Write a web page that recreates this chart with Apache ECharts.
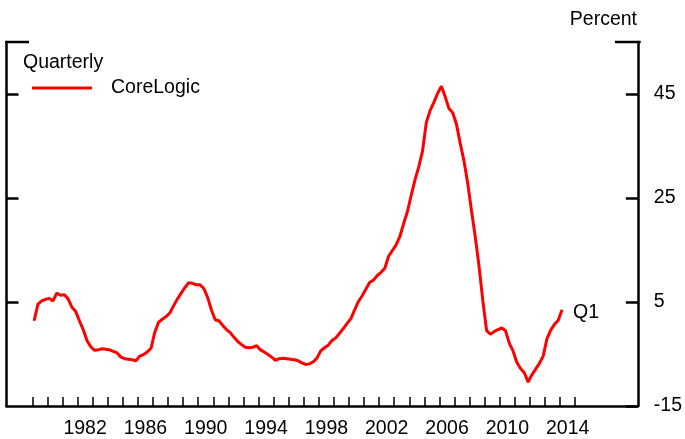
<!DOCTYPE html>
<html>
<head>
<meta charset="utf-8">
<script src="https://cdn.jsdelivr.net/npm/echarts@6/dist/echarts.min.js"></script>
<style>
  html, body { margin: 0; padding: 0; background: #fff; }
  #chart { width: 685px; height: 439px; }
</style>
</head>
<body>
<div id="chart"></div>
<script>
// quarterly series, 1979Q1 .. 2014Q1, percent
const startYear = 1979
const coreLogic = [
  1.4, 4.6, 5.2, 5.5,        // 1979
  5.7, 5.2, 6.7, 6.3,        // 1980
  6.4, 5.6, 4.0, 3.2,        // 1981
  1.4, -0.3, -2.4, -3.6,     // 1982
  -4.3, -4.2, -4.0, -4.1,    // 1983
  -4.2, -4.5, -4.8, -5.6,    // 1984
  -5.9, -6.0, -6.1, -6.3,    // 1985
  -5.4, -5.1, -4.6, -3.9,    // 1986
  -0.8, 1.1, 1.7, 2.2,       // 1987
  2.9, 4.3, 5.6, 6.7,        // 1988
  7.8, 8.7, 8.6, 8.3,        // 1989
  8.3, 7.6, 5.9, 3.5,        // 1990
  1.6, 1.4, 0.5, -0.3,       // 1991
  -0.9, -1.8, -2.6, -3.2,    // 1992
  -3.7, -3.8, -3.7, -3.4,    // 1993
  -4.2, -4.6, -5.1, -5.6,    // 1994
  -6.2, -5.9, -5.8, -5.9,    // 1995
  -6.0, -6.1, -6.3, -6.7,    // 1996
  -7.0, -6.9, -6.5, -5.8,    // 1997
  -4.4, -3.8, -3.3, -2.4,    // 1998
  -1.9, -1.0, -0.1, 0.9,     // 1999
  1.8, 3.5, 5.1, 6.2,        // 2000
  7.5, 8.8, 9.2, 10.1,       // 2001
  10.7, 11.5, 13.8, 14.9,    // 2002
  16.0, 17.6, 20.1, 22.4,    // 2003
  25.5, 28.5, 31.0, 34.0,    // 2004
  39.5, 41.8, 43.4, 45.1,    // 2005
  46.5, 44.5, 42.2, 41.4,    // 2006
  39.2, 35.5, 32.1, 27.8,    // 2007
  22.5, 17.5, 11.8, 5.2,     // 2008
  -0.5, -1.2, -0.7, -0.3,    // 2009
  0.0, -0.5, -2.9, -4.4,     // 2010
  -6.6, -7.8, -8.6, -10.4,   // 2011
  -9.0, -7.9, -6.8, -5.4,    // 2012
  -2.1, -0.4, 0.7, 1.5,      // 2013
  3.5                        // 2014
]
const yTicks = [-15, 5, 25, 45]
const xLabelYears = [1982, 1986, 1990, 1994, 1998, 2002, 2006, 2010, 2014]
const xTickYears = []
for (let y = 1979; y <= 2015; y++) xTickYears.push(y)

// each quarter sits at the middle of its quarter
const seriesData = coreLogic.map((v, i) => [startYear + (i + 0.5) / 4, v])

const font = "'Liberation Sans', Arial, Helvetica, sans-serif"
const fs = 19.5
const black = '#000'

const chart = echarts.init(document.getElementById('chart'))

const option = {
  backgroundColor: '#fff',
  animation: false,
  textStyle: { fontFamily: font },
  grid: { left: 6.5, right: 45.5, top: 42, bottom: 32.3 },
  legend: {
    left: 27,
    top: 73,
    icon: 'rect',
    itemWidth: 60,
    itemHeight: 3,
    textStyle: { fontSize: fs, color: black, fontFamily: font, padding: [0, 0, 0, 14] },
    data: ['CoreLogic']
  },
  graphic: [
    { type: 'text', left: 23, top: 53, style: { text: 'Quarterly', font: fs + 'px ' + font, fill: black } },
    { type: 'text', right: 48, top: 10, style: { text: 'Percent', font: fs + 'px ' + font, fill: black } },
    // top brackets of the frame
    { type: 'line', shape: { x1: 5.3, y1: 42, x2: 29, y2: 42 }, style: { stroke: black, lineWidth: 2.5 } },
    { type: 'line', shape: { x1: 615, y1: 42, x2: 640.7, y2: 42 }, style: { stroke: black, lineWidth: 2.5 } }
  ],
  xAxis: {
    type: 'value',
    min: 1977.29,
    max: 2019.15,
    axisLine: { show: true, onZero: false, lineStyle: { color: black, width: 2.5 } },
    axisTick: {
      show: true,
      inside: true,
      length: 9,
      customValues: xTickYears,
      lineStyle: { color: black, width: 1.5 }
    },
    axisLabel: {
      show: true,
      customValues: xLabelYears.map(y => y + 0.5),
      formatter: v => String(Math.floor(v)),
      fontSize: fs,
      color: black,
      margin: 13
    },
    splitLine: { show: false }
  },
  yAxis: [
    {
      type: 'value',
      position: 'right',
      min: -15,
      max: 55,
      axisLine: { show: true, lineStyle: { color: black, width: 2.5 } },
      axisTick: {
        show: true,
        inside: true,
        length: 12,
        customValues: yTicks,
        lineStyle: { color: black, width: 2.5 }
      },
      axisLabel: {
        show: true,
        customValues: yTicks,
        fontSize: fs,
        color: black,
        margin: 16
      },
      splitLine: { show: false }
    },
    {
      type: 'value',
      position: 'left',
      min: -15,
      max: 55,
      axisLine: { show: true, lineStyle: { color: black, width: 2.5 } },
      axisTick: {
        show: true,
        inside: true,
        length: 12,
        customValues: yTicks.slice(1),
        lineStyle: { color: black, width: 2.5 }
      },
      axisLabel: { show: false },
      splitLine: { show: false }
    }
  ],
  series: [
    {
      name: 'CoreLogic',
      type: 'line',
      data: seriesData,
      showSymbol: false,
      symbol: 'none',
      color: '#ff0000',
      lineStyle: { color: '#ff0000', width: 3 },
      endLabel: {
        show: true,
        formatter: 'Q1',
        distance: 11,
        offset: [0, 3],
        fontSize: fs,
        color: black
      }
    }
  ]
}

chart.setOption(option)
</script>
</body>
</html>
